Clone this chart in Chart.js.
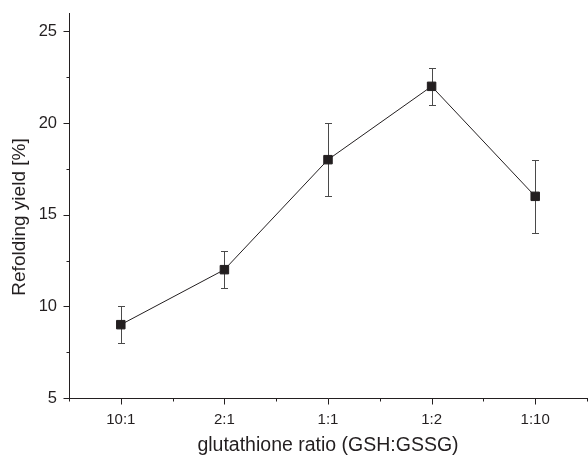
<!DOCTYPE html>
<html>
<head>
<meta charset="utf-8">
<script src="https://cdn.jsdelivr.net/npm/chart.js@4/dist/chart.umd.min.js"></script>
<style>
  html, body { margin: 0; padding: 0; background: #fff; }
  #wrap { width: 588px; height: 457px; }
</style>
</head>
<body>
<div id="wrap"><canvas id="myChart" width="588" height="457"></canvas></div>
<script>
// data
const ratios = ['10:1', '2:1', '1:1', '1:2', '1:10'];
const yieldPct = [9, 12, 18, 22, 16];
const yieldErr = [1, 1, 2, 1, 2];
const yTicks = [5, 10, 15, 20, 25];

const ink = '#231f20';
const fam = 'Liberation Sans, Arial, sans-serif';

// error bars, axis tick marks and the y title (sits a bit below centre in the original)
const extras = {
    id: 'extras',
    beforeDatasetsDraw(chart) {
        const { ctx, scales: { x, y } } = chart;
        ctx.save();
        ctx.strokeStyle = '#4a4a4a';
        ctx.lineWidth = 1;
        yieldPct.forEach((v, i) => {
            const px = Math.round(x.getPixelForValue(i)) + 0.5;
            const top = Math.round(y.getPixelForValue(v + yieldErr[i])) + 0.5;
            const bot = Math.round(y.getPixelForValue(v - yieldErr[i])) + 0.5;
            ctx.beginPath();
            ctx.moveTo(px, top);
            ctx.lineTo(px, bot);
            ctx.moveTo(px - 3.5, top);
            ctx.lineTo(px + 3.5, top);
            ctx.moveTo(px - 3.5, bot);
            ctx.lineTo(px + 3.5, bot);
            ctx.stroke();
        });
        ctx.restore();
    },
    afterDraw(chart) {
        const { ctx, scales: { x, y } } = chart;
        const left = Math.round(x.left) + 0.5;
        const base = Math.round(y.bottom) + 0.5;
        ctx.save();
        ctx.strokeStyle = ink;
        ctx.lineWidth = 1;
        ctx.beginPath();
        yTicks.forEach(t => {
            const py = Math.round(y.getPixelForValue(t)) + 0.5;
            ctx.moveTo(left, py);
            ctx.lineTo(left - 6, py);
            if (t + 2.5 <= y.max) {
                const pm = Math.round(y.getPixelForValue(t + 2.5)) + 0.5;
                ctx.moveTo(left, pm);
                ctx.lineTo(left - 3, pm);
            }
        });
        ratios.forEach((r, i) => {
            const px = Math.round(x.getPixelForValue(i)) + 0.5;
            ctx.moveTo(px, base);
            ctx.lineTo(px, base + 6);
        });
        for (let i = -0.5; i <= ratios.length - 0.5; i++) {
            const px = Math.round(x.getPixelForValue(i)) + 0.5;
            ctx.moveTo(px, base);
            ctx.lineTo(px, base + 3);
        }
        ctx.stroke();

        ctx.translate(20, 217);
        ctx.rotate(-Math.PI / 2);
        ctx.fillStyle = ink;
        ctx.font = '19px ' + fam;
        ctx.textAlign = 'center';
        ctx.textBaseline = 'middle';
        ctx.fillText('Refolding yield [%]', 0, 0);
        ctx.restore();
    }
};

const ctx = document.getElementById('myChart').getContext('2d');
const myChart = new Chart(ctx, {
    type: 'line',
    data: {
        labels: ratios,
        datasets: [{
            data: yieldPct,
            borderColor: ink,
            borderWidth: 1,
            pointStyle: 'rect',
            pointRadius: 6,
            pointBackgroundColor: ink,
            pointBorderColor: ink,
            pointBorderWidth: 1,
            tension: 0,
        }],
    },
    options: {
        responsive: false,
        animation: false,
        events: [],
        layout: { autoPadding: false, padding: { top: 13, right: 1, left: 0, bottom: 0 } },
        plugins: {
            legend: { display: false },
            tooltip: { enabled: false },
        },
        scales: {
            x: {
                offset: true,
                afterFit(scale) {
                    scale.height = 59;
                    scale.paddingLeft = 0;
                    scale.paddingRight = 0;
                },
                grid: { display: false },
                border: { display: true, color: ink, width: 1 },
                ticks: {
                    color: ink,
                    padding: 5,
                    maxRotation: 0,
                    font: { family: fam, size: 15 },
                },
                title: {
                    display: true,
                    text: 'glutathione ratio (GSH:GSSG)',
                    color: ink,
                    padding: { top: 0, bottom: 0 },
                    font: { family: fam, size: 19.5 },
                },
            },
            y: {
                min: 5,
                max: 26,
                afterFit(scale) {
                    scale.width = 69;
                    scale.paddingTop = 0;
                    scale.paddingBottom = 0;
                },
                afterBuildTicks(scale) {
                    scale.ticks = yTicks.map(v => ({ value: v }));
                },
                grid: { display: false },
                border: { display: true, color: ink, width: 1 },
                ticks: {
                    color: ink,
                    padding: 4,
                    font: { family: fam, size: 16.5 },
                },
            },
        },
    },
    plugins: [extras],
});
</script>
</body>
</html>
